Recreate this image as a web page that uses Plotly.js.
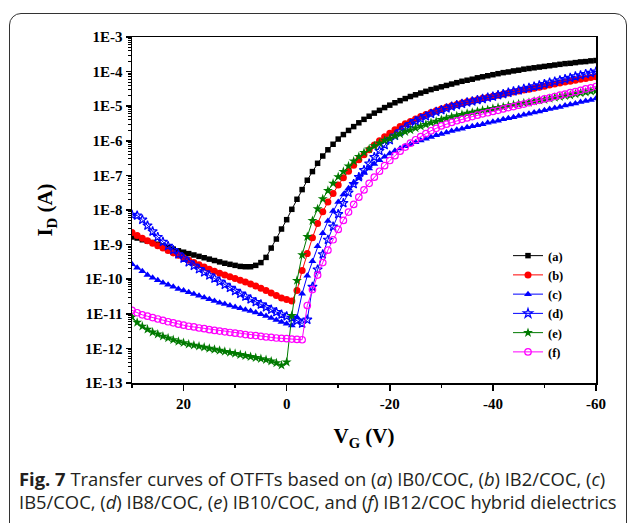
<!DOCTYPE html>
<html>
<head>
<meta charset="utf-8">
<script src="https://cdn.plot.ly/plotly-3.0.1.min.js"></script>
<style>
  html, body { margin: 0; padding: 0; background: #fff; }
  #frame { position: absolute; left: 9px; top: 13px; width: 618px; height: 530px;
           border: 1.5px solid #333; border-radius: 12px; box-sizing: border-box; }
  #chart { position: absolute; left: 0; top: 0; width: 629px; height: 523px; }
  body { overflow: hidden; width: 629px; height: 523px; }
</style>
</head>
<body>
<div id="frame"></div>
<div id="chart"></div>
<script>
// Gate voltage (V)
const VG = [30,29,28,27,26,25,24,23,22,21,20,19,18,17,16,15,14,13,12,11,10,9,8,7,6,5,4,3,2,1,
  0,-1,-2,-3,-4,-5,-6,-7,-8,-9,-10,-11,-12,-13,-14,-15,-16,-17,-18,-19,-20,-21,-22,-23,-24,-25,-26,-27,-28,-29,
  -30,-31,-32,-33,-34,-35,-36,-37,-38,-39,-40,-41,-42,-43,-44,-45,-46,-47,-48,-49,-50,-51,-52,-53,-54,-55,-56,-57,-58,-59,-60];

// log10 of drain current I_D (A)
const logA = [-8.78,-8.81,-8.86,-8.90,-8.94,-8.99,-9.04,-9.08,-9.13,-9.18,
  -9.22,-9.26,-9.30,-9.34,-9.38,-9.42,-9.46,-9.50,-9.54,-9.57,
  -9.60,-9.63,-9.64,-9.64,-9.60,-9.52,-9.37,-9.10,-8.84,-8.55,
  -8.28,-7.98,-7.69,-7.41,-7.14,-6.89,-6.65,-6.44,-6.26,-6.10,
  -5.95,-5.82,-5.70,-5.59,-5.48,-5.38,-5.29,-5.20,-5.12,-5.04,
  -4.97,-4.90,-4.84,-4.78,-4.72,-4.67,-4.62,-4.57,-4.52,-4.48,
  -4.44,-4.40,-4.36,-4.32,-4.28,-4.25,-4.22,-4.18,-4.15,-4.12,
  -4.09,-4.06,-4.03,-4.01,-3.98,-3.96,-3.93,-3.91,-3.89,-3.87,
  -3.85,-3.83,-3.81,-3.79,-3.77,-3.76,-3.74,-3.72,-3.71,-3.69,-3.68];

const logB = [-8.65,-8.74,-8.82,-8.89,-8.96,-9.03,-9.10,-9.17,-9.24,-9.31,
  -9.38,-9.45,-9.52,-9.58,-9.65,-9.71,-9.77,-9.83,-9.88,-9.93,
  -9.98,-10.03,-10.08,-10.14,-10.20,-10.26,-10.33,-10.40,-10.47,-10.54,
  -10.59,-10.63,-10.33,-9.75,-9.26,-8.80,-8.39,-8.05,-7.77,-7.52,
  -7.28,-7.07,-6.88,-6.71,-6.55,-6.40,-6.26,-6.12,-6.00,-5.88,
  -5.78,-5.68,-5.59,-5.51,-5.44,-5.37,-5.30,-5.24,-5.18,-5.13,
  -5.08,-5.03,-4.99,-4.95,-4.91,-4.87,-4.84,-4.81,-4.77,-4.74,
  -4.71,-4.68,-4.65,-4.62,-4.59,-4.56,-4.53,-4.51,-4.48,-4.45,
  -4.42,-4.39,-4.36,-4.33,-4.30,-4.28,-4.25,-4.22,-4.20,-4.17,-4.15];

const logC = [-9.57,-9.67,-9.77,-9.88,-9.96,-10.03,-10.10,-10.16,-10.22,-10.28,
  -10.33,-10.38,-10.43,-10.48,-10.53,-10.58,-10.63,-10.68,-10.72,-10.76,
  -10.80,-10.84,-10.88,-10.92,-10.96,-11.01,-11.06,-11.12,-11.18,-11.24,
  -11.29,-11.34,-11.10,-10.42,-9.90,-9.48,-9.05,-8.67,-8.32,-8.03,
  -7.77,-7.55,-7.37,-7.21,-7.07,-6.93,-6.80,-6.67,-6.56,-6.46,
  -6.37,-6.29,-6.22,-6.16,-6.10,-6.04,-5.99,-5.94,-5.89,-5.84,
  -5.80,-5.76,-5.72,-5.68,-5.65,-5.61,-5.58,-5.55,-5.52,-5.48,
  -5.45,-5.42,-5.38,-5.35,-5.32,-5.28,-5.25,-5.22,-5.18,-5.15,
  -5.12,-5.08,-5.05,-5.02,-4.98,-4.95,-4.92,-4.88,-4.85,-4.82,-4.78];

const logD = [-8.14,-8.16,-8.28,-8.45,-8.62,-8.78,-8.92,-9.04,-9.16,-9.28,
  -9.40,-9.51,-9.61,-9.71,-9.80,-9.89,-9.98,-10.07,-10.16,-10.25,
  -10.34,-10.42,-10.50,-10.58,-10.66,-10.73,-10.81,-10.88,-10.95,-11.02,
  -11.07,-11.12,-11.20,-11.28,-11.17,-10.22,-9.72,-9.28,-8.86,-8.48,
  -8.12,-7.80,-7.50,-7.25,-7.05,-6.85,-6.66,-6.47,-6.29,-6.12,
  -5.98,-5.85,-5.73,-5.62,-5.52,-5.43,-5.36,-5.29,-5.22,-5.16,
  -5.11,-5.06,-5.01,-4.97,-4.93,-4.89,-4.86,-4.82,-4.79,-4.75,
  -4.72,-4.68,-4.65,-4.61,-4.57,-4.54,-4.50,-4.47,-4.43,-4.40,
  -4.36,-4.32,-4.29,-4.25,-4.22,-4.18,-4.14,-4.11,-4.07,-4.04,-4.00];

const logE = [-11.09,-11.25,-11.36,-11.45,-11.53,-11.59,-11.65,-11.70,-11.75,-11.80,
  -11.84,-11.88,-11.91,-11.94,-11.97,-12.00,-12.03,-12.06,-12.09,-12.12,
  -12.15,-12.18,-12.21,-12.24,-12.27,-12.30,-12.33,-12.37,-12.42,-12.49,
  -12.40,-11.05,-10.04,-9.30,-8.77,-8.31,-7.97,-7.68,-7.44,-7.23,
  -7.04,-6.89,-6.73,-6.59,-6.46,-6.34,-6.24,-6.15,-6.07,-5.99,
  -5.93,-5.86,-5.80,-5.74,-5.69,-5.63,-5.58,-5.53,-5.48,-5.44,
  -5.39,-5.35,-5.31,-5.28,-5.24,-5.21,-5.18,-5.15,-5.12,-5.10,
  -5.07,-5.04,-5.02,-4.99,-4.96,-4.94,-4.91,-4.89,-4.86,-4.83,
  -4.81,-4.78,-4.75,-4.73,-4.70,-4.68,-4.65,-4.62,-4.60,-4.57,-4.55];

const logF = [-10.90,-10.97,-11.03,-11.07,-11.11,-11.15,-11.19,-11.23,-11.26,-11.30,
  -11.33,-11.36,-11.38,-11.41,-11.43,-11.46,-11.48,-11.50,-11.52,-11.54,
  -11.56,-11.58,-11.60,-11.62,-11.63,-11.65,-11.67,-11.68,-11.70,-11.71,
  -11.72,-11.73,-11.74,-11.75,-10.76,-10.30,-9.88,-9.52,-9.16,-8.86,
  -8.56,-8.30,-8.06,-7.84,-7.63,-7.42,-7.23,-7.05,-6.88,-6.72,
  -6.57,-6.43,-6.30,-6.18,-6.07,-5.97,-5.88,-5.79,-5.71,-5.64,
  -5.57,-5.52,-5.47,-5.42,-5.38,-5.34,-5.30,-5.26,-5.22,-5.19,
  -5.15,-5.12,-5.08,-5.04,-5.01,-4.97,-4.94,-4.90,-4.86,-4.83,
  -4.79,-4.76,-4.72,-4.68,-4.65,-4.61,-4.58,-4.54,-4.50,-4.47,-4.43];

const seriesNames = ['(a)','(b)','(c)','(d)','(e)','(f)'];
const xTickVals = [20, 0, -20, -40, -60];
const xTickText = ['20', '0', '-20', '-40', '-60'];
const yTickVals = [1e-13,1e-12,1e-11,1e-10,1e-9,1e-8,1e-7,1e-6,1e-5,1e-4,1e-3];
const yTickText = ['1E-13','1E-12','1E-11','1E-10','1E-9','1E-8','1E-7','1E-6','1E-5','1E-4','1E-3'];

const toAmp = arr => arr.map(v => Math.pow(10, v));

const styles = [
  {color:'#000000', symbol:'square', size:5.5},
  {color:'#ff0000', symbol:'circle', size:7},
  {color:'#0000ff', symbol:'triangle-up', size:7},
  {color:'#0000ff', symbol:'star-open', size:7},
  {color:'#007a00', symbol:'star', size:7.5},
  {color:'#ff00ff', symbol:'circle-open', size:6.5}
];
const logs = [logA, logB, logC, logD, logE, logF];

const traces = logs.map((lg, i) => ({
  x: VG, y: toAmp(lg), name: seriesNames[i], type: 'scatter', mode: 'lines+markers',
  line: {color: styles[i].color, width: 1},
  marker: {symbol: styles[i].symbol, size: styles[i].size, color: styles[i].color,
           line: {color: styles[i].color, width: styles[i].symbol.endsWith('open') ? 1.2 : 0}}
}));

const serif = 'Times New Roman, Liberation Serif, serif';
const W = 629, H = 523, ML = 132, MR = 33, MT = 37, MB = 140;
const px2x = p => (p - ML) / (W - ML - MR);
const px2y = p => 1 - (p - MT) / (H - MT - MB);
const capFont = {family: 'Open Sans, sans-serif', size: 18.4, color: '#231f20'};

const layout = {
  width: W, height: H,
  margin: {l: ML, r: MR, t: MT, b: MB},
  paper_bgcolor: 'rgba(0,0,0,0)', plot_bgcolor: '#ffffff',
  showlegend: true,
  xaxis: {
    range: [30, -60], tickmode: 'array', tickvals: xTickVals, ticktext: xTickText,
    ticks: 'outside', ticklen: 6, tickwidth: 1.5, tickcolor: '#000',
    minor: {tickmode: 'array', tickvals: [30, 10, -10, -30, -50], ticks: 'outside', ticklen: 3.5, tickwidth: 1.5, tickcolor: '#000'},
    showline: true, linewidth: 1.5, linecolor: '#000', mirror: true,
    showgrid: false, zeroline: false,
    tickfont: {family: serif, size: 15, weight: 'bold', color: '#000'},
    title: {text: 'V<sub>G</sub> (V)', font: {family: serif, size: 21, weight: 'bold', color: '#000'}, standoff: 18}
  },
  yaxis: {
    type: 'log', range: [-13, -3], tickmode: 'array', tickvals: yTickVals, ticktext: yTickText,
    ticks: 'outside', ticklen: 5, tickwidth: 1.5, tickcolor: '#000',
    minor: {dtick: 'D1', ticks: 'outside', ticklen: 3, tickwidth: 1, tickcolor: '#000'},
    showline: true, linewidth: 1.5, linecolor: '#000', mirror: true,
    showgrid: false, zeroline: false,
    tickfont: {family: serif, size: 15, weight: 'bold', color: '#000'},
    title: {text: 'I<sub>D</sub> (A)', font: {family: serif, size: 21, weight: 'bold', color: '#000'}, standoff: 26}
  },
  legend: {
    x: px2x(508), y: px2y(241), xanchor: 'left', yanchor: 'top',
    bgcolor: 'rgba(0,0,0,0)', borderwidth: 0, tracegroupgap: 0,
    font: {family: serif, size: 12.5, weight: 'bold', color: '#000'}
  },
  annotations: [
    {xref: 'paper', yref: 'paper', x: px2x(17), y: px2y(478), xanchor: 'left', yanchor: 'middle', showarrow: false,
     text: '<b>Fig. 7</b> Transfer curves of OTFTs based on (<i>a</i>) IB0/COC, (<i>b</i>) IB2/COC, (<i>c</i>)', font: capFont},
    {xref: 'paper', yref: 'paper', x: px2x(17), y: px2y(501), xanchor: 'left', yanchor: 'middle', showarrow: false,
     text: 'IB5/COC, (<i>d</i>) IB8/COC, (<i>e</i>) IB10/COC, and (<i>f</i>) IB12/COC hybrid dielectrics', font: capFont}
  ]
};

Plotly.newPlot('chart', traces, layout, {displayModeBar: false, staticPlot: true});
</script>
</body>
</html>
